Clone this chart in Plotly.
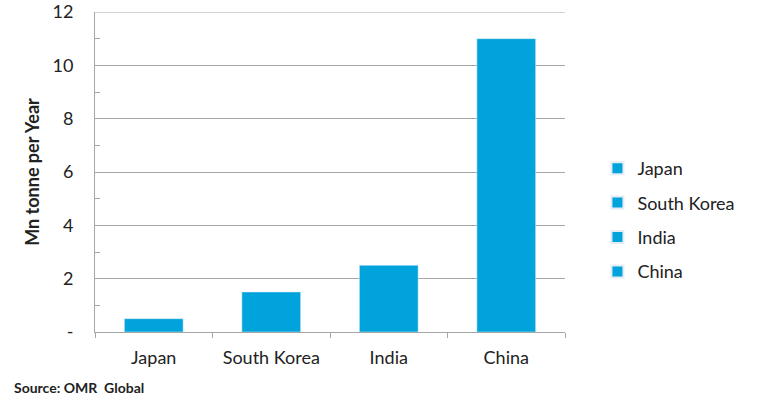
import plotly.graph_objects as go

countries = ["Japan", "South Korea", "India", "China"]
values = [0.5, 1.5, 2.5, 11.0]
y_tickvals = [0, 2, 4, 6, 8, 10, 12]
y_ticktext = ["-", "2", "4", "6", "8", "10", "12"]

color = "#00A3DC"
grid = "#A6A6A6"
font = "Lato, 'Open Sans', sans-serif"

fig = go.Figure()
for c, v in zip(countries, values):
    fig.add_trace(go.Bar(x=[c], y=[v], name=c, marker_color=color, width=0.5,
                         legendgroup=c))

fig.update_layout(
    width=761, height=405,
    margin=dict(l=95, r=196, t=12, b=73, autoexpand=False),
    paper_bgcolor="white", plot_bgcolor="white",
    barmode="overlay",
    font=dict(family=font, size=18, color="#222"),
    showlegend=True,
    legend=dict(x=1.069, y=0.35, xanchor="left", yanchor="middle",
                font=dict(size=18, color="#222"), tracegroupgap=8,
                itemsizing="constant"),
    xaxis=dict(
        categoryorder="array", categoryarray=countries, automargin=False,
        showline=True, linecolor=grid, linewidth=1,
        ticks="outside", tickson="boundaries", ticklen=5, tickcolor=grid,
        showgrid=False, tickfont=dict(size=18), ticklabelstandoff=9,
    ),
    yaxis=dict(
        range=[0, 12], tickvals=y_tickvals, ticktext=y_ticktext, automargin=False,
        showgrid=True, gridcolor=grid, gridwidth=1,
        showline=True, linecolor=grid, linewidth=1,
        zeroline=False, ticks="", ticklabelstandoff=17, ticklabeloverflow="allow",
        minor=dict(tickvals=[1, 3, 5, 7, 9, 11], ticks="inside", ticklen=5,
                   tickcolor=grid, showgrid=False),
        title=dict(text="<b>Mn tonne per Year</b>", font=dict(size=18), standoff=8),
        tickfont=dict(size=18),
    ),
)

# top gridline at the axis maximum
fig.add_shape(type="line", xref="paper", yref="y", x0=0, x1=1,
              y0=y_tickvals[-1], y1=y_tickvals[-1],
              line=dict(color=grid, width=1), layer="below")

fig.add_annotation(text="<b>Source: OMR  Global</b>", xref="paper", yref="paper",
                   x=0, y=0, xanchor="left", yanchor="middle",
                   xshift=-83, yshift=-55, showarrow=False,
                   font=dict(size=14, color="#222", family=font))

fig.write_html("out.html", config={"displayModeBar": False},
               post_script="document.body.style.margin='0px';")
